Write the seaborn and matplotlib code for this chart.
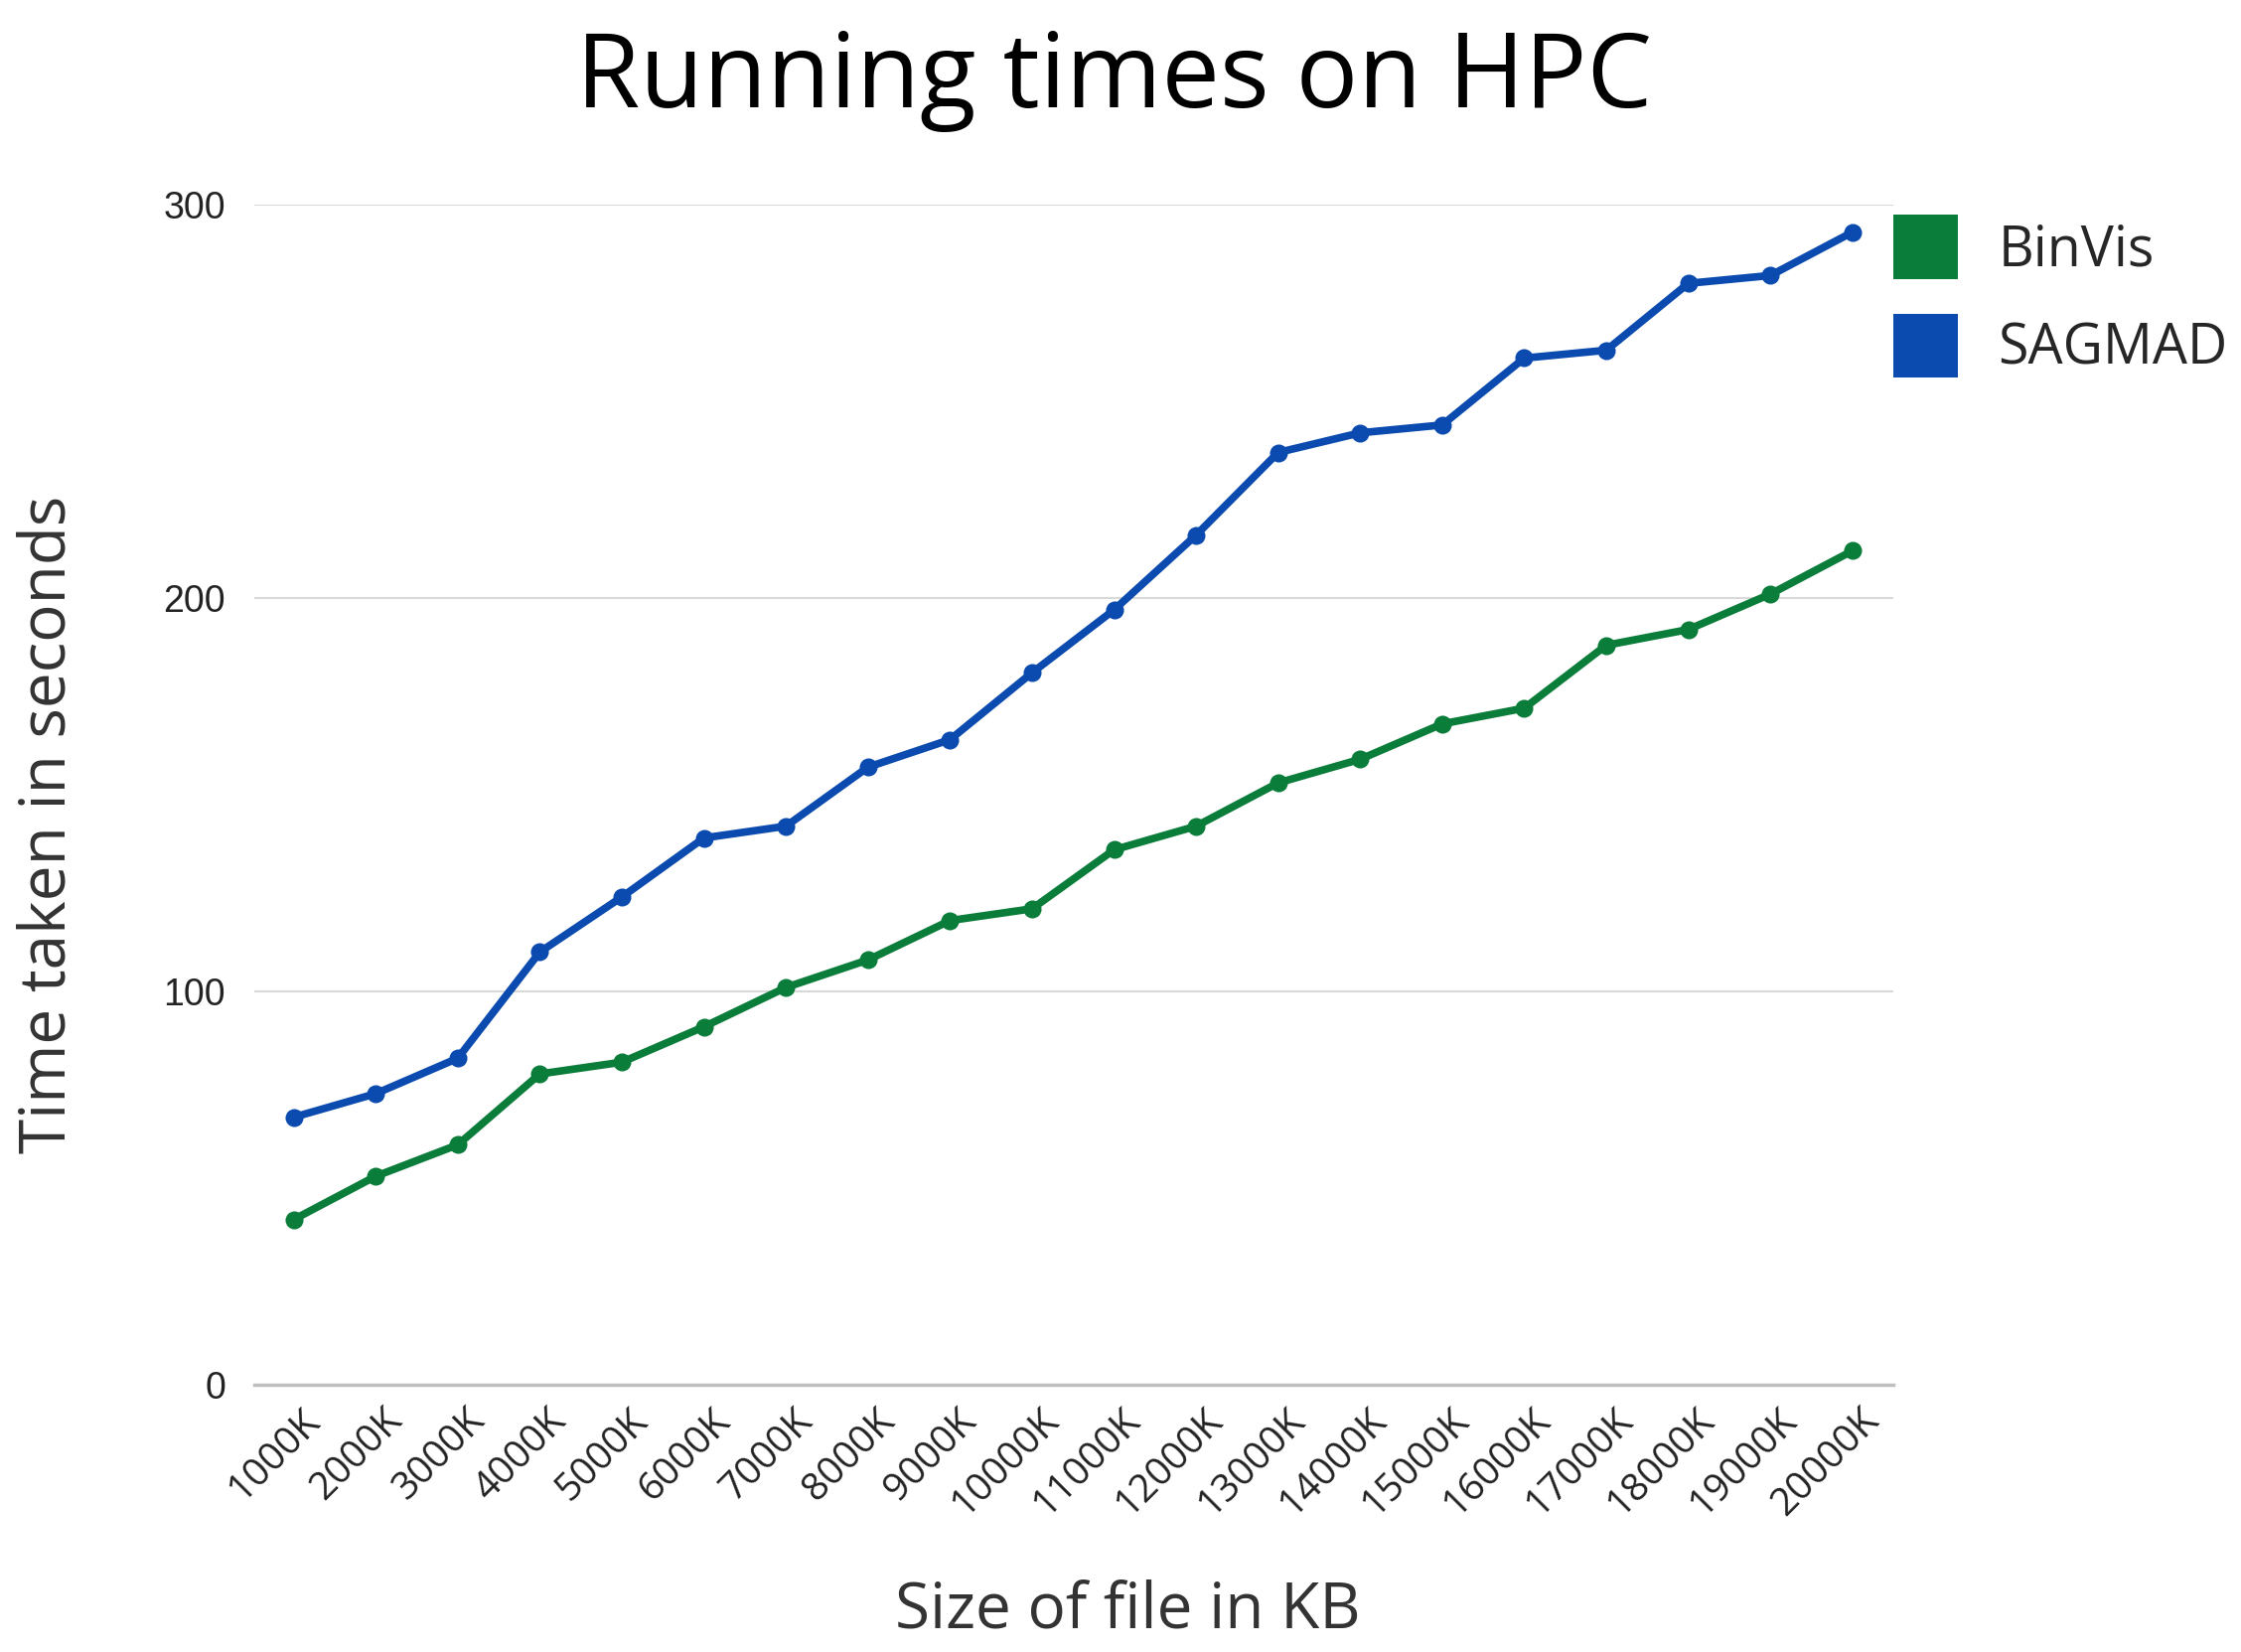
import matplotlib
matplotlib.use("Agg")
import matplotlib.pyplot as plt
from matplotlib.patches import Patch
from matplotlib.transforms import ScaledTranslation
import seaborn as sns
import pandas as pd

# Bestandsgroottes en looptijden (seconden)
sizes = ["1000K", "2000K", "3000K", "4000K", "5000K", "6000K", "7000K", "8000K",
         "9000K", "10000K", "11000K", "12000K", "13000K", "14000K", "15000K",
         "16000K", "17000K", "18000K", "19000K", "20000K"]
binvis = [42, 53, 61, 79, 82, 91, 101, 108, 118, 121,
          136, 142, 153, 159, 168, 172, 188, 192, 201, 212]
sagmad = [68, 74, 83, 110, 124, 139, 142, 157, 164, 181,
          197, 216, 237, 242, 244, 261, 263, 280, 282, 293]
methods = ["BinVis", "SAGMAD"]
colors = {"BinVis": "#0B7D3A", "SAGMAD": "#0B4BAF"}

df = pd.DataFrame({
    "size": sizes * 2,
    "time": binvis + sagmad,
    "method": ["BinVis"] * len(sizes) + ["SAGMAD"] * len(sizes),
})

sns.set_theme(style="white")
plt.rcParams["font.family"] = ["Open Sans", "DejaVu Sans"]

fig = plt.figure(figsize=(22.56, 16.63), dpi=100)
ax = fig.add_axes([0.1135, 0.1618, 0.7314, 0.7143])

sns.lineplot(data=df, x="size", y="time", hue="method", palette=colors,
             marker="o", markersize=13, markeredgewidth=0, linewidth=5.5,
             sort=False, ax=ax, legend=False)

ax.set_ylim(0, 300)
ax.set_xlim(-0.48, 19.5)
ax.set_yticks([0, 100, 200, 300])
ax.yaxis.grid(True, color="#d9d9d9", linewidth=1.5)
ax.xaxis.grid(False)
for side in ["top", "right", "left"]:
    ax.spines[side].set_visible(False)
ax.spines["bottom"].set_color("#c0c0c0")
ax.spines["bottom"].set_linewidth(2.5)
ax.tick_params(axis="both", length=0)
ax.tick_params(axis="y", pad=21)
ax.tick_params(axis="x", pad=22)

for lbl in ax.get_yticklabels():
    lbl.set_fontfamily("Liberation Sans")
    lbl.set_fontsize(27)
    lbl.set_color("#222222")
ax.set_xticks(range(len(sizes)))
ax.set_xticklabels(sizes, rotation=45, ha="right", va="center",
                   rotation_mode="anchor", fontsize=28, color="#222222")
# labels iets naar rechts schuiven
shift = ScaledTranslation(15 / 72, 0, fig.dpi_scale_trans)
for lbl in ax.get_xticklabels():
    lbl.set_transform(lbl.get_transform() + shift)

ax.set_ylabel("Time taken in seconds", fontsize=46, color="#333333", va="center")
ax.yaxis.set_label_coords(-0.126, 0.475)
ax.set_xlabel("Size of file in KB", fontsize=46, color="#333333", va="center")
ax.xaxis.set_label_coords(0.533, -0.192)

fig.text(0.497, 0.935, "Running times on HPC", fontsize=75, ha="center",
         va="baseline", color="black")

handles = [Patch(facecolor=colors[m], edgecolor="none", label=m) for m in methods]
fig.legend(handles=handles, loc="upper left", bbox_to_anchor=(0.845, 0.870),
           frameon=False, fontsize=40, handlelength=1.17, handleheight=1.42,
           handletextpad=0.72, labelspacing=0.62, borderpad=0, borderaxespad=0)

fig.savefig("out.png", dpi=100)
